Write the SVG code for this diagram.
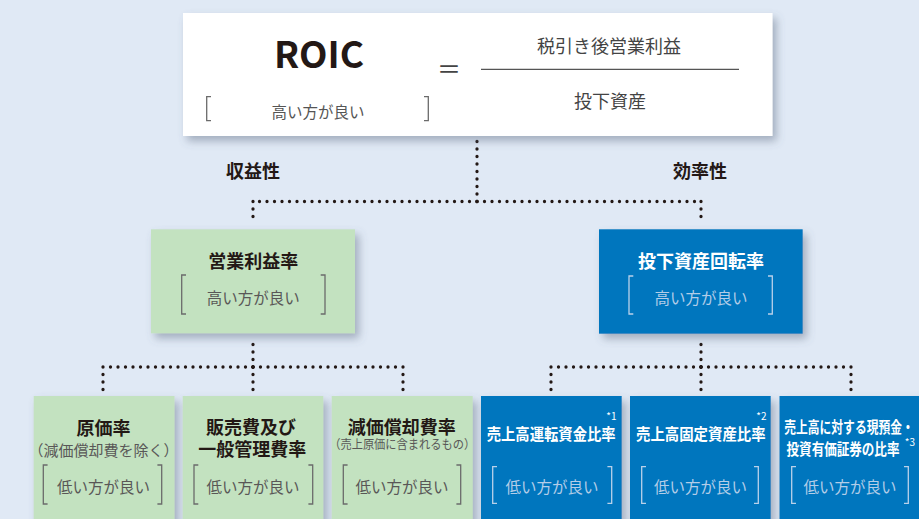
<svg xmlns="http://www.w3.org/2000/svg" width="919" height="519" viewBox="0 0 919 519">
<defs>
<filter id="sh" x="-10%" y="-10%" width="130%" height="140%">
<feDropShadow dx="4" dy="5" stdDeviation="4" flood-color="#56657a" flood-opacity="0.45"/>
</filter>
<style>
text{font-family:"Noto Sans CJK JP","Noto Sans",sans-serif;text-anchor:middle}
.t{font-weight:700;font-size:18px;fill:#231815}
.tw{font-weight:700;font-size:16px;fill:#ffffff}
.g{font-size:15.5px;fill:#595757}
.gl{font-size:15.5px;fill:#b3cde8}
.sub{font-size:15px;fill:#595757}
.sup{font-size:10px;fill:#ffffff;text-anchor:end}
.br{fill:none;stroke:#6b6b6b;stroke-width:1.3}
.brl{fill:none;stroke:#b9d1ea;stroke-width:1.3}
.green{fill:#c3e2c0;filter:url(#sh)}
.blue{fill:#0076be;filter:url(#sh)}
.dot{fill:none;stroke:#231815;stroke-width:3.3;stroke-linecap:round;stroke-dasharray:0 7.5}
</style>
</defs>
<rect width="919" height="519" fill="#e0e9f5"/>

<g id="connectors">
<path class="dot" d="M477,201.5 V141"/>
<path class="dot" d="M477,201.5 H253"/>
<path class="dot" d="M477,201.5 H701"/>
<path class="dot" d="M253,201.5 V224"/>
<path class="dot" d="M701,201.5 V224"/>
<path class="dot" d="M253,367 V337"/>
<path class="dot" d="M253,367 H103"/>
<path class="dot" d="M253,367 H403"/>
<path class="dot" d="M253,367 V391"/>
<path class="dot" d="M103,367 V391"/>
<path class="dot" d="M403,367 V391"/>
<path class="dot" d="M701,367 V337"/>
<path class="dot" d="M701,367 H551"/>
<path class="dot" d="M701,367 H851"/>
<path class="dot" d="M701,367 V391"/>
<path class="dot" d="M551,367 V391"/>
<path class="dot" d="M851,367 V391"/>
</g>

<g id="roic">
<rect x="183" y="13" width="589.5" height="123" fill="#ffffff" filter="url(#sh)"/>
<text x="319" y="68" style="font-size:37px;font-weight:700;fill:#231815">ROIC</text>
<path class="br" d="M211,96.7 H206.7 V120.7 H211"/>
<path class="br" d="M424,96.7 H428.3 V120.7 H424"/>
<text class="g" x="318" y="117.5" style="fill:#555">高い方が良い</text>
<text x="449" y="78" style="font-size:24px;fill:#444">＝</text>
<line x1="481" y1="69.3" x2="739" y2="69.3" stroke="#555" stroke-width="1.2"/>
<text x="609" y="52.5" style="font-size:18px;fill:#444">税引き後営業利益</text>
<text x="610" y="108" style="font-size:18px;fill:#444">投下資産</text>
</g>

<g id="label-profit"><text class="t" x="253" y="178">収益性</text></g>
<g id="label-efficiency"><text class="t" x="700" y="178">効率性</text></g>

<g id="op-margin">
<rect class="green" x="151" y="229.3" width="204" height="104"/>
<text class="t" x="253.3" y="268">営業利益率</text>
<path class="br" d="M186,275 H181.7 V314 H186"/>
<path class="br" d="M320.7,275 H325 V314 H320.7"/>
<text class="g" x="253.3" y="304">高い方が良い</text>
</g>

<g id="asset-turnover">
<rect class="blue" x="599" y="229.3" width="203.7" height="104.4"/>
<text class="t" x="701" y="268" style="fill:#fff">投下資産回転率</text>
<path class="brl" d="M633.3,276 H629 V314 H633.3"/>
<path class="brl" d="M768,276 H772.3 V314 H768"/>
<text class="gl" x="701" y="304">高い方が良い</text>
</g>

<g id="cost-ratio">
<rect class="green" x="33.7" y="396" width="140.8" height="135"/>
<text class="t" x="103.5" y="434.5">原価率</text>
<text class="sub" x="103.5" y="455.5">（減価償却費を除く）</text>
<path class="br" d="M47.6,465 H43.3 V504 H47.6"/>
<path class="br" d="M157.4,465 H161.7 V504 H157.4"/>
<text class="g" x="103.5" y="493">低い方が良い</text>
</g>

<g id="sga-ratio">
<rect class="green" x="182.7" y="396" width="140.6" height="135"/>
<text class="t" x="251" y="434">販売費及び</text>
<text class="t" x="252.2" y="455.5">一般管理費率</text>
<path class="br" d="M198.3,465 H194 V504 H198.3"/>
<path class="br" d="M308.4,465 H312.7 V504 H308.4"/>
<text class="g" x="253" y="493">低い方が良い</text>
</g>

<g id="depreciation-ratio">
<rect class="green" x="331.7" y="396" width="141" height="135"/>
<text class="t" x="401.7" y="434">減価償却費率</text>
<text class="sub" transform="translate(402.2,449) scale(0.9,1)" x="0" y="0" style="font-size:12.5px">（売上原価に含まれるもの）</text>
<path class="br" d="M347.6,465 H343.3 V504 H347.6"/>
<path class="br" d="M456.4,465 H460.7 V504 H456.4"/>
<text class="g" x="402" y="493">低い方が良い</text>
</g>

<g id="working-capital">
<rect class="blue" x="481" y="396" width="140.7" height="135"/>
<text class="tw" transform="translate(551.2,440) scale(0.896,1)" x="0" y="0">売上高運転資金比率</text>
<text class="sup" x="616.5" y="420">*1</text>
<path class="brl" d="M497,466.7 H492.7 V503.3 H497"/>
<path class="brl" d="M607.4,466.7 H611.7 V503.3 H607.4"/>
<text class="gl" x="552" y="493">低い方が良い</text>
</g>

<g id="fixed-assets">
<rect class="blue" x="630" y="396" width="140.7" height="135"/>
<text class="tw" transform="translate(700.8,439.5) scale(0.9,1)" x="0" y="0">売上高固定資産比率</text>
<text class="sup" x="766.5" y="420">*2</text>
<path class="brl" d="M646,466.7 H641.7 V503.3 H646"/>
<path class="brl" d="M754,466.7 H758.3 V503.3 H754"/>
<text class="gl" x="700.5" y="493">低い方が良い</text>
</g>

<g id="cash-securities">
<rect class="blue" x="779.5" y="396" width="145" height="135"/>
<text class="tw" transform="translate(849,433) scale(0.76,1)" x="0" y="0" style="font-size:15.5px">売上高に対する現預金・</text>
<text class="tw" transform="translate(843,455) scale(0.81,1)" x="0" y="0" style="font-size:15.5px">投資有価証券の比率</text>
<text class="sup" x="915" y="446">*3</text>
<path class="brl" d="M796,466.7 H791.7 V503.3 H796"/>
<path class="brl" d="M904,466.7 H908.3 V503.3 H904"/>
<text class="gl" x="850" y="493">低い方が良い</text>
</g>
</svg>
